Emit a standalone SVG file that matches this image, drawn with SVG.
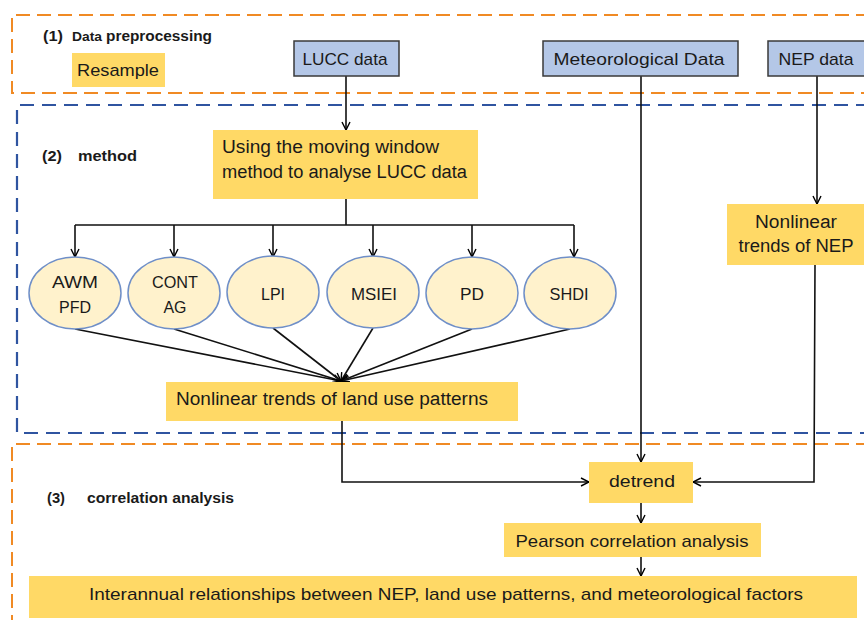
<svg xmlns="http://www.w3.org/2000/svg" width="864" height="620" viewBox="0 0 864 620">
<defs>
<marker id="arr" viewBox="0 0 10 10" refX="9" refY="5" markerWidth="10" markerHeight="10" markerUnits="userSpaceOnUse" orient="auto">
<path d="M1,1 L9,5 L1,9" fill="none" stroke="#000" stroke-width="1.4"/>
</marker>
<style>
.t{font-family:"Liberation Sans",Arial,sans-serif;fill:#1a1a1a;}
.yl{fill:#FFD966;}
.bl{fill:#B4C7E7;stroke:#3a3a3a;stroke-width:1.5;}
.el{fill:#FFF2CC;stroke:#6F8FC8;stroke-width:1.5;}
.c{fill:none;stroke:#111;stroke-width:1.6;}
.od{fill:none;stroke:#F08A24;stroke-width:2;stroke-dasharray:14 7;}
.bd{fill:none;stroke:#2F54A0;stroke-width:2.2;stroke-dasharray:14 8;}
</style>
</defs>
<rect width="864" height="620" fill="#fff"/>

<g id="frames">
<path class="od" d="M870,15 L12,15 L12,93 L870,93"/>
<path class="bd" d="M870,105 L17,105 L17,433 L870,433"/>
<path class="od" d="M870,444 L12,444 L12,625"/>
</g>

<g id="labels">
<text class="t" x="43" y="41" font-size="14" font-weight="bold" textLength="20" lengthAdjust="spacingAndGlyphs">(1)</text>
<text class="t" x="72" y="41" font-size="12" font-weight="bold" textLength="30" lengthAdjust="spacingAndGlyphs">Data</text>
<text class="t" x="106" y="41" font-size="14" font-weight="bold" textLength="106" lengthAdjust="spacingAndGlyphs">preprocessing</text>
<text class="t" x="42" y="161" font-size="15" font-weight="bold" textLength="20" lengthAdjust="spacingAndGlyphs">(2)</text>
<text class="t" x="78" y="161" font-size="15" font-weight="bold" textLength="59" lengthAdjust="spacingAndGlyphs">method</text>
<text class="t" x="47" y="503" font-size="15" font-weight="bold" textLength="18" lengthAdjust="spacingAndGlyphs">(3)</text>
<text class="t" x="87" y="503" font-size="14" font-weight="bold" textLength="147" lengthAdjust="spacingAndGlyphs">correlation analysis</text>
</g>

<g id="connectors">
<line class="c" x1="346" y1="76" x2="346" y2="130" marker-end="url(#arr)"/>
<line class="c" x1="641" y1="76" x2="641" y2="462" marker-end="url(#arr)"/>
<line class="c" x1="817" y1="76" x2="817" y2="204" marker-end="url(#arr)"/>
<path class="c" d="M346,199 L346,225 M75,225 L574,225"/>
<line class="c" x1="75" y1="225" x2="75" y2="257" marker-end="url(#arr)"/>
<line class="c" x1="174" y1="225" x2="174" y2="257" marker-end="url(#arr)"/>
<line class="c" x1="273" y1="225" x2="273" y2="257" marker-end="url(#arr)"/>
<line class="c" x1="373" y1="225" x2="373" y2="257" marker-end="url(#arr)"/>
<line class="c" x1="472" y1="225" x2="472" y2="257" marker-end="url(#arr)"/>
<line class="c" x1="574" y1="225" x2="574" y2="257" marker-end="url(#arr)"/>
<line class="c" x1="75" y1="329" x2="341" y2="381" marker-end="url(#arr)"/>
<line class="c" x1="174" y1="329" x2="341" y2="381" marker-end="url(#arr)"/>
<line class="c" x1="273" y1="328" x2="341" y2="381" marker-end="url(#arr)"/>
<line class="c" x1="373" y1="328" x2="341" y2="381" marker-end="url(#arr)"/>
<line class="c" x1="472" y1="329" x2="341" y2="381" marker-end="url(#arr)"/>
<line class="c" x1="570" y1="329" x2="341" y2="381" marker-end="url(#arr)"/>
<path class="c" d="M342,421 L342,482 L589,482" marker-end="url(#arr)"/>
<path class="c" d="M815,265 L814,482 L693,482" marker-end="url(#arr)"/>
<line class="c" x1="641" y1="503" x2="641" y2="523" marker-end="url(#arr)"/>
<line class="c" x1="641" y1="557" x2="641" y2="576" marker-end="url(#arr)"/>
</g>

<g id="resample">
<rect class="yl" x="72" y="53" width="93" height="34"/>
<text class="t" x="118" y="76" font-size="17" text-anchor="middle" textLength="82" lengthAdjust="spacingAndGlyphs">Resample</text>
</g>
<g id="lucc">
<rect class="bl" x="294" y="41" width="105" height="35"/>
<text class="t" x="345" y="65" font-size="17" text-anchor="middle" textLength="85" lengthAdjust="spacingAndGlyphs">LUCC data</text>
</g>
<g id="meteo">
<rect class="bl" x="543" y="41" width="195" height="35"/>
<text class="t" x="639" y="65" font-size="17" text-anchor="middle" textLength="171" lengthAdjust="spacingAndGlyphs">Meteorological Data</text>
</g>
<g id="nep">
<rect class="bl" x="768" y="41" width="100" height="35"/>
<text class="t" x="816" y="65" font-size="17" text-anchor="middle" textLength="75" lengthAdjust="spacingAndGlyphs">NEP data</text>
</g>
<g id="moving">
<rect class="yl" x="213" y="130" width="265" height="69"/>
<text class="t" x="222" y="153" font-size="18" textLength="217" lengthAdjust="spacingAndGlyphs">Using the moving window</text>
<text class="t" x="222" y="178" font-size="18" textLength="245" lengthAdjust="spacingAndGlyphs">method to analyse LUCC data</text>
</g>
<g id="awm">
<ellipse class="el" cx="75" cy="293" rx="46" ry="36"/>
<text class="t" x="75" y="288" font-size="17" text-anchor="middle" textLength="46" lengthAdjust="spacingAndGlyphs">AWM</text>
<text class="t" x="75" y="313" font-size="17" text-anchor="middle" textLength="32" lengthAdjust="spacingAndGlyphs">PFD</text>
</g>
<g id="cont">
<ellipse class="el" cx="174" cy="293" rx="46" ry="36"/>
<text class="t" x="175" y="288" font-size="17" text-anchor="middle" textLength="46" lengthAdjust="spacingAndGlyphs">CONT</text>
<text class="t" x="175" y="313" font-size="17" text-anchor="middle" textLength="23" lengthAdjust="spacingAndGlyphs">AG</text>
</g>
<g id="lpi">
<ellipse class="el" cx="273" cy="292" rx="46" ry="36"/>
<text class="t" x="273" y="300" font-size="17" text-anchor="middle" textLength="24" lengthAdjust="spacingAndGlyphs">LPI</text>
</g>
<g id="msiei">
<ellipse class="el" cx="373" cy="292" rx="46" ry="36"/>
<text class="t" x="374" y="300" font-size="17" text-anchor="middle" textLength="46" lengthAdjust="spacingAndGlyphs">MSIEI</text>
</g>
<g id="pd">
<ellipse class="el" cx="472" cy="293" rx="46" ry="36"/>
<text class="t" x="472" y="300" font-size="17" text-anchor="middle" textLength="24" lengthAdjust="spacingAndGlyphs">PD</text>
</g>
<g id="shdi">
<ellipse class="el" cx="570" cy="293" rx="46" ry="36"/>
<text class="t" x="569" y="300" font-size="17" text-anchor="middle" textLength="39" lengthAdjust="spacingAndGlyphs">SHDI</text>
</g>
<g id="landuse">
<rect class="yl" x="166" y="382" width="352" height="39"/>
<text class="t" x="176" y="405" font-size="18" textLength="312" lengthAdjust="spacingAndGlyphs">Nonlinear trends of land use patterns</text>
</g>
<g id="neptrend">
<rect class="yl" x="727" y="204" width="140" height="61"/>
<text class="t" x="796" y="228" font-size="18" text-anchor="middle" textLength="82" lengthAdjust="spacingAndGlyphs">Nonlinear</text>
<text class="t" x="796" y="252" font-size="18" text-anchor="middle" textLength="115" lengthAdjust="spacingAndGlyphs">trends of NEP</text>
</g>
<g id="detrend">
<rect class="yl" x="589" y="462" width="104" height="41"/>
<text class="t" x="642" y="487" font-size="17" text-anchor="middle" textLength="66" lengthAdjust="spacingAndGlyphs">detrend</text>
</g>
<g id="pearson">
<rect class="yl" x="504" y="523" width="257" height="34"/>
<text class="t" x="632" y="547" font-size="17" text-anchor="middle" textLength="233" lengthAdjust="spacingAndGlyphs">Pearson correlation analysis</text>
</g>
<g id="interannual">
<rect class="yl" x="29" y="576" width="828" height="42"/>
<text class="t" x="446" y="600" font-size="17" text-anchor="middle" textLength="714" lengthAdjust="spacingAndGlyphs">Interannual relationships between NEP, land use patterns, and meteorological factors</text>
</g>
</svg>
